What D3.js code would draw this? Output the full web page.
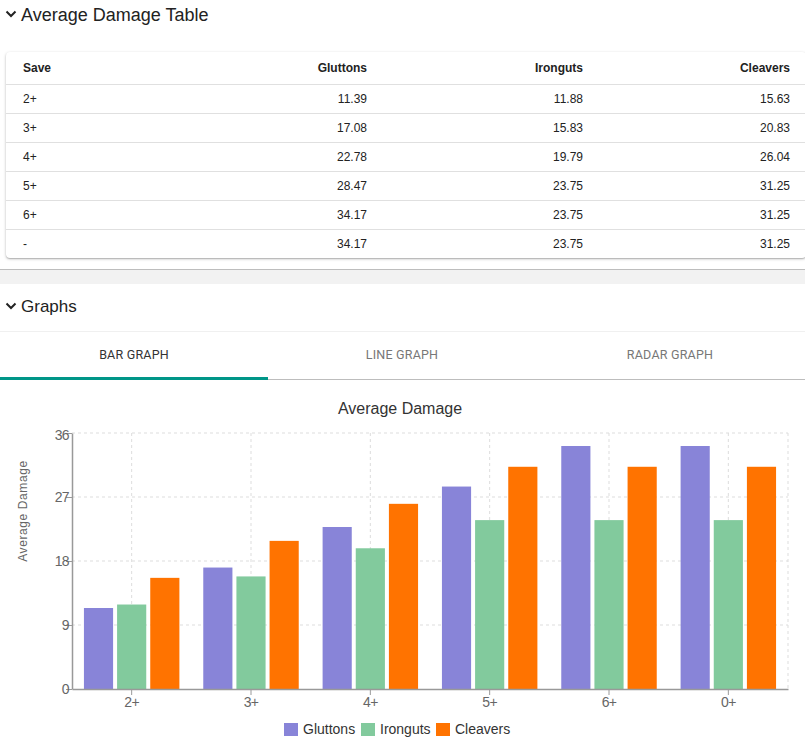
<!DOCTYPE html>
<html>
<head>
<meta charset="utf-8">
<script src="https://cdn.jsdelivr.net/npm/d3@7"></script>
<style>
  html, body { margin: 0; padding: 0; background: #fff; width: 805px; height: 750px; overflow: hidden; font-family: Roboto, "Liberation Sans", Arial, sans-serif; }
  .abs { position: absolute; }
  .hdr { font-family: "Liberation Sans", Arial, sans-serif; font-size: 18px; color: #222; }
  .card { left: 6px; top: 52px; width: 800px; height: 206px; background: #fff; border-radius: 4px;
          box-shadow: 0 1px 3px rgba(0,0,0,0.25), 0 1px 1px rgba(0,0,0,0.14); }
  table { border-collapse: collapse; table-layout: fixed; width: 800px; font-family: "Liberation Sans", Arial, sans-serif; font-size: 12px; color: #222; }
  td, th { height: 29px; border-bottom: 1px solid #e0e0e0; padding: 0; box-sizing: border-box; }
  th { font-weight: bold; height: 32px; }
  .tab { font-family: Roboto, sans-serif; font-size: 12.5px; letter-spacing: 0.2px; color: #666; text-align: center; width: 268px; top: 347px; }
</style>
</head>
<body>
<script>
// ---- data ----
const tableRows = ["2+", "3+", "4+", "5+", "6+", "-"];
const chartCategories = ["2+", "3+", "4+", "5+", "6+", "0+"];
const seriesNames = ["Gluttons", "Ironguts", "Cleavers"];
const gluttons = [11.39, 17.08, 22.78, 28.47, 34.17, 34.17];
const ironguts = [11.88, 15.83, 19.79, 23.75, 23.75, 23.75];
const cleavers = [15.63, 20.83, 26.04, 31.25, 31.25, 31.25];
const yTicks = [0, 9, 18, 27, 36];
const colors = ["#8884d8", "#82ca9d", "#ff7300"];
const tabLabels = ["BAR GRAPH", "LINE GRAPH", "RADAR GRAPH"];

const series = [gluttons, ironguts, cleavers];
const body = d3.select("body");

function chevron(x, y) {
  const s = body.append("svg").attr("class", "abs").style("left", x + "px").style("top", y + "px")
    .attr("width", 12).attr("height", 10);
  s.append("path").attr("d", "M1.5,2.5 L6,7 L10.5,2.5").attr("fill", "none").attr("stroke", "#222").attr("stroke-width", 2);
}

// ---- section 1 header ----
chevron(5, 9);
body.append("div").attr("class", "abs hdr").style("left", "21px").style("top", "5px").text("Average Damage Table");

// ---- table ----
const card = body.append("div").attr("class", "abs card");
const table = card.append("table");
const heads = ["Save"].concat(seriesNames);
const aligns = ["left", "right", "right", "right"];
const pads = [["17px", "0"], ["0", "16px"], ["0", "16px"], ["0", "16px"]];
const widths = ["120px", "257px", "216px", "207px"];
const thead = table.append("tr");
thead.selectAll("th").data(heads).enter().append("th")
  .style("text-align", (d, i) => aligns[i])
  .style("padding-left", (d, i) => pads[i][0])
  .style("padding-right", (d, i) => pads[i][1])
  .style("width", (d, i) => widths[i])
  .text(d => d);
tableRows.forEach((r, ri) => {
  const tr = table.append("tr");
  const vals = [r].concat(series.map(s => s[ri].toFixed(2)));
  tr.selectAll("td").data(vals).enter().append("td")
    .style("text-align", (d, i) => aligns[i])
    .style("padding-left", (d, i) => pads[i][0])
    .style("padding-right", (d, i) => pads[i][1])
    .style("border-bottom", ri === tableRows.length - 1 ? "none" : null)
    .text(d => d);
});

// section separator
body.append("div").attr("class", "abs").style("left", "0px").style("top", "269px").style("width", "805px").style("height", "1px").style("background", "#bdbdbd");
body.append("div").attr("class", "abs").style("left", "0px").style("top", "270px").style("width", "805px").style("height", "14px").style("background", "#f2f2f2");

// ---- section 2 header ----
chevron(5, 301);
body.append("div").attr("class", "abs hdr").style("left", "21px").style("top", "297px").style("font-size", "17px").text("Graphs");
body.append("div").attr("class", "abs").style("left", "0px").style("top", "331px").style("width", "805px").style("height", "1px").style("background", "#f0f0f0");

// tabs
tabLabels.forEach((t, i) => {
  body.append("div").attr("class", "abs tab").style("left", (i * 268) + "px")
    .style("color", i === 0 ? "#333" : "#777").text(t);
});
body.append("div").attr("class", "abs").style("left", "0px").style("top", "379px").style("width", "805px").style("height", "1px").style("background", "#bdbdbd");
body.append("div").attr("class", "abs").style("left", "0px").style("top", "377px").style("width", "268px").style("height", "3px").style("background", "#009688");

// ---- chart ----
const svg = body.append("svg").attr("class", "abs").style("left", "0px").style("top", "0px")
  .attr("width", 805).attr("height", 750).style("pointer-events", "none");

const m = { left: 72, right: 788, top: 433, bottom: 689 };
const x = d3.scaleBand().domain(chartCategories).range([m.left, m.right]).paddingInner(0).paddingOuter(0);
const y = d3.scaleLinear().domain([0, 36]).range([m.bottom, m.top]);

svg.append("text").attr("x", 400).attr("y", 414).attr("text-anchor", "middle")
  .attr("font-family", "Liberation Sans, Arial, sans-serif").attr("font-size", 16).attr("fill", "#333").text("Average Damage");

// grid
const grid = svg.append("g").attr("stroke", "#ddd").attr("stroke-dasharray", "3 3");
yTicks.filter(t => t > 0).forEach(t => {
  grid.append("line").attr("x1", m.left).attr("x2", m.right).attr("y1", y(t)).attr("y2", y(t));
});
chartCategories.forEach(c => {
  const cx = x(c) + x.bandwidth() / 2;
  grid.append("line").attr("x1", cx).attr("x2", cx).attr("y1", m.top).attr("y2", m.bottom);
});
grid.append("line").attr("x1", m.right).attr("x2", m.right).attr("y1", m.top).attr("y2", m.bottom);

// bars
const catGap = x.bandwidth() * 0.1;
const barGap = 4;
const barW = (x.bandwidth() - 2 * catGap - barGap * (seriesNames.length - 1)) / seriesNames.length;
series.forEach((s, si) => {
  svg.append("g").selectAll("rect").data(s).enter().append("rect")
    .attr("x", (d, i) => x(chartCategories[i]) + catGap + si * (barW + barGap))
    .attr("y", d => y(d))
    .attr("width", barW)
    .attr("height", d => y(0) - y(d))
    .attr("fill", colors[si]);
});

// axes
const axFont = "Liberation Sans, Arial, sans-serif";
const yAxis = svg.append("g").attr("transform", `translate(${m.left},0)`)
  .call(d3.axisLeft(y).tickValues(yTicks).tickSize(6).tickSizeOuter(0));
const xAxis = svg.append("g").attr("transform", `translate(0,${m.bottom})`)
  .call(d3.axisBottom(x).tickSize(6).tickSizeOuter(0));
[yAxis, xAxis].forEach(a => {
  a.select(".domain").attr("stroke", "#999").attr("stroke-width", 1.5);
  a.selectAll(".tick line").attr("stroke", "#999");
  a.selectAll(".tick text").attr("fill", "#666").attr("font-size", 14).attr("font-family", axFont)
    .attr("letter-spacing", -0.6);
});
yAxis.selectAll(".tick text").attr("x", -3).attr("dy", "0.35em");
yAxis.selectAll(".tick").filter(d => d === 36).select("text").attr("dy", "0.45em");
xAxis.selectAll(".tick text").attr("y", 8);

svg.append("text").attr("transform", "translate(27,511) rotate(-90)").attr("text-anchor", "middle")
  .attr("font-family", axFont).attr("font-size", 12).attr("letter-spacing", 0.6).attr("fill", "#666").text("Average Damage");

// legend
const legendX = [284, 361, 436];
const lg = svg.append("g");
seriesNames.forEach((n, i) => {
  lg.append("rect").attr("x", legendX[i]).attr("y", 723).attr("width", 14).attr("height", 13).attr("fill", colors[i]);
  lg.append("text").attr("x", legendX[i] + 19).attr("y", 734).attr("font-family", axFont).attr("font-size", 14)
    .attr("fill", "#333").text(n);
});
</script>
</body>
</html>
